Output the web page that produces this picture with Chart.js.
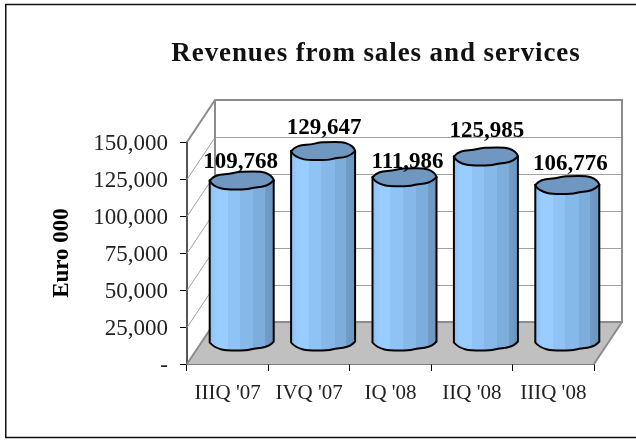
<!DOCTYPE html>
<html>
<head>
<meta charset="utf-8">
<style>
    html, body { margin: 0; padding: 0; background: #fff; }
    canvas { display: block; }
</style>
<script src="https://cdn.jsdelivr.net/npm/chart.js@4/dist/chart.umd.min.js"></script>
</head>
<body>
<canvas id="revenueChart" width="636" height="440"></canvas>
<script>
const categories = ["IIIQ '07", "IVQ '07", "IQ '08", "IIQ '08", "IIIQ '08"];
const revenues = [109768, 129647, 111986, 125985, 106776];
const valueTicks = [0, 25000, 50000, 75000, 100000, 125000, 150000];

const serif = "'Liberation Serif', serif";
const depthX = 28;
const depthY = 42;

// wobbly cylinder cap, relative to the axis centre
const capUpper = [[-32, 0], [-29, -3.5], [-22, -6], [-12, -6.5], [-5, -8.5], [3, -9], [20, -9], [27, -6.5], [31, -3], [32, 0]];
const capLower = [[32, 0], [28, 4], [20, 6.5], [12, 7], [5, 9], [-16, 9], [-24, 7], [-30, 3.5], [-32, 0]];
// hand placed labels, the original ones are not centred on the bars
const labelShift = [[-1, -13], [1, -17], [3, -9], [1, -20], [3, -15]];

function fmt(v) {
    return v === 0 ? '-' : v.toLocaleString('en-US');
}

function smoothTo(ctx, pts, cx, cy) {
    for (let i = 1; i < pts.length - 1; i++) {
        const mx = (pts[i][0] + pts[i + 1][0]) / 2;
        const my = (pts[i][1] + pts[i + 1][1]) / 2;
        ctx.quadraticCurveTo(cx + pts[i][0], cy + pts[i][1], cx + mx, cy + my);
    }
    const last = pts[pts.length - 1];
    ctx.lineTo(cx + last[0], cy + last[1]);
}

function drawCylinder(ctx, bar) {
    const cx = bar.x + depthX / 2;
    const top = bar.y - depthY / 2;
    const bottom = bar.base - depthY / 2;
    const r = 32;

    const grad = ctx.createLinearGradient(cx - r, 0, cx + r, 0);
    const bands = [[0, '#8dc1f4'], [0.1, '#99ccff'], [0.28, '#99ccff'], [0.28, '#90c3f5'], [0.47, '#90c3f5'],
        [0.47, '#86b8ea'], [0.68, '#86b8ea'], [0.68, '#7dadda'], [0.86, '#7dadda'], [0.86, '#709cc6'], [1, '#6c96bf']];
    bands.forEach(b => grad.addColorStop(b[0], b[1]));

    ctx.beginPath();
    ctx.moveTo(cx - r, top);
    ctx.lineTo(cx - r, bottom);
    smoothTo(ctx, capLower.slice().reverse(), cx, bottom - 1);
    ctx.lineTo(cx + r, top);
    ctx.closePath();
    ctx.fillStyle = grad;
    ctx.fill();
    ctx.strokeStyle = '#000';
    ctx.lineWidth = 2;
    ctx.stroke();

    ctx.beginPath();
    ctx.moveTo(cx - r, top);
    smoothTo(ctx, capUpper, cx, top);
    smoothTo(ctx, capLower, cx, top);
    ctx.closePath();
    ctx.fillStyle = '#6f97c0';
    ctx.fill();
    ctx.stroke();
}

const chart3d = {
    id: 'chart3d',
    afterLayout(chart) {
        // title is centred over the wall, not the canvas, and spaced wider
        const block = chart.titleBlock;
        block.left = 116;
        block.right = 636;
        if (!block.spaced) {
            const draw = block.draw.bind(block);
            block.draw = function () {
                chart.ctx.save();
                chart.ctx.letterSpacing = '0.9px';
                draw();
                chart.ctx.restore();
            };
            block.spaced = true;
        }
    },
    beforeDraw(chart) {
        const ctx = chart.ctx;
        ctx.save();
        ctx.strokeStyle = '#111';
        ctx.lineWidth = 1.5;
        ctx.strokeRect(5.75, 4.5, 640, 433);
        ctx.restore();
    },
    beforeDatasetDraw(chart, args) {
        const ctx = chart.ctx;
        const { left, right, top, bottom } = chart.chartArea;
        const y = chart.scales.y;
        ctx.save();

        // floor
        ctx.beginPath();
        ctx.moveTo(left, bottom);
        ctx.lineTo(right, bottom);
        ctx.lineTo(right + depthX, bottom - depthY);
        ctx.lineTo(left + depthX, bottom - depthY);
        ctx.closePath();
        ctx.fillStyle = '#c0c0c0';
        ctx.fill();

        // grid on side and back walls
        ctx.strokeStyle = '#a0a0a0';
        ctx.lineWidth = 1;
        valueTicks.forEach(v => {
            if (v === 0 || v === 150000) return;
            const py = Math.round(y.getPixelForValue(v)) + 0.5;
            ctx.beginPath();
            ctx.moveTo(left, py);
            ctx.lineTo(left + depthX, py - depthY);
            ctx.lineTo(right + depthX, py - depthY);
            ctx.stroke();
        });

        // wall edges
        ctx.strokeStyle = '#8c8c8c';
        ctx.lineWidth = 2;
        ctx.beginPath();
        ctx.moveTo(left, top);
        ctx.lineTo(left + depthX, top - depthY);
        ctx.lineTo(right + depthX, top - depthY);
        ctx.lineTo(right + depthX, bottom - depthY);
        ctx.lineTo(left + depthX, bottom - depthY);
        ctx.lineTo(left + depthX, top - depthY);
        ctx.moveTo(right + depthX, bottom - depthY);
        ctx.lineTo(right, bottom);
        ctx.moveTo(left + depthX, bottom - depthY);
        ctx.lineTo(left, bottom);
        ctx.stroke();

        chart.getDatasetMeta(args.index).data.forEach(bar => drawCylinder(ctx, bar));

        // value labels
        ctx.fillStyle = '#000';
        ctx.font = "bold 23px " + serif;
        ctx.textAlign = 'center';
        ctx.textBaseline = 'alphabetic';
        chart.getDatasetMeta(args.index).data.forEach((bar, i) => {
            ctx.fillText(fmt(revenues[i]), bar.x + depthX / 2 + labelShift[i][0], bar.y - depthY / 2 + labelShift[i][1]);
        });
        ctx.restore();
        return false;
    }
};

new Chart(document.getElementById('revenueChart'), {
    type: 'bar',
    data: {
        labels: categories,
        datasets: [{
            label: 'Revenues',
            data: revenues,
            backgroundColor: '#99ccff',
            borderColor: '#000',
            categoryPercentage: 0.786,
            barPercentage: 1
        }]
    },
    plugins: [chart3d],
    options: {
        responsive: false,
        animation: false,
        layout: { padding: { left: 6, right: 42, top: 0, bottom: 0 } },
        plugins: {
            legend: { display: false },
            tooltip: { enabled: false },
            title: {
                display: true,
                text: 'Revenues from sales and services',
                color: '#111',
                font: { family: serif, size: 27, weight: 'bold' },
                padding: { top: 38, bottom: 71.6 }
            }
        },
        scales: {
            x: {
                afterFit(scale) { scale.height = 76; },
                grid: { drawOnChartArea: false, offset: true, color: '#000', tickLength: 7 },
                border: { color: '#000', width: 1.5 },
                ticks: { color: '#222', font: { family: serif, size: 21 }, padding: 10, maxRotation: 0, autoSkip: false }
            },
            y: {
                min: 0,
                max: 150000,
                afterFit(scale) { scale.width = 181; },
                afterBuildTicks(scale) { scale.ticks = valueTicks.map(v => ({ value: v })); },
                grid: { drawOnChartArea: false, color: '#000', tickLength: 7 },
                border: { color: '#555', width: 2 },
                title: {
                    display: true,
                    text: 'Euro 000',
                    color: '#000',
                    font: { family: serif, size: 23, weight: 'bold' },
                    padding: { top: 42, bottom: 0 }
                },
                ticks: {
                    color: '#222',
                    font: { family: serif, size: 23 },
                    padding: 12,
                    labelOffset: 2,
                    callback: v => fmt(v)
                }
            }
        }
    }
});
</script>
</body>
</html>
